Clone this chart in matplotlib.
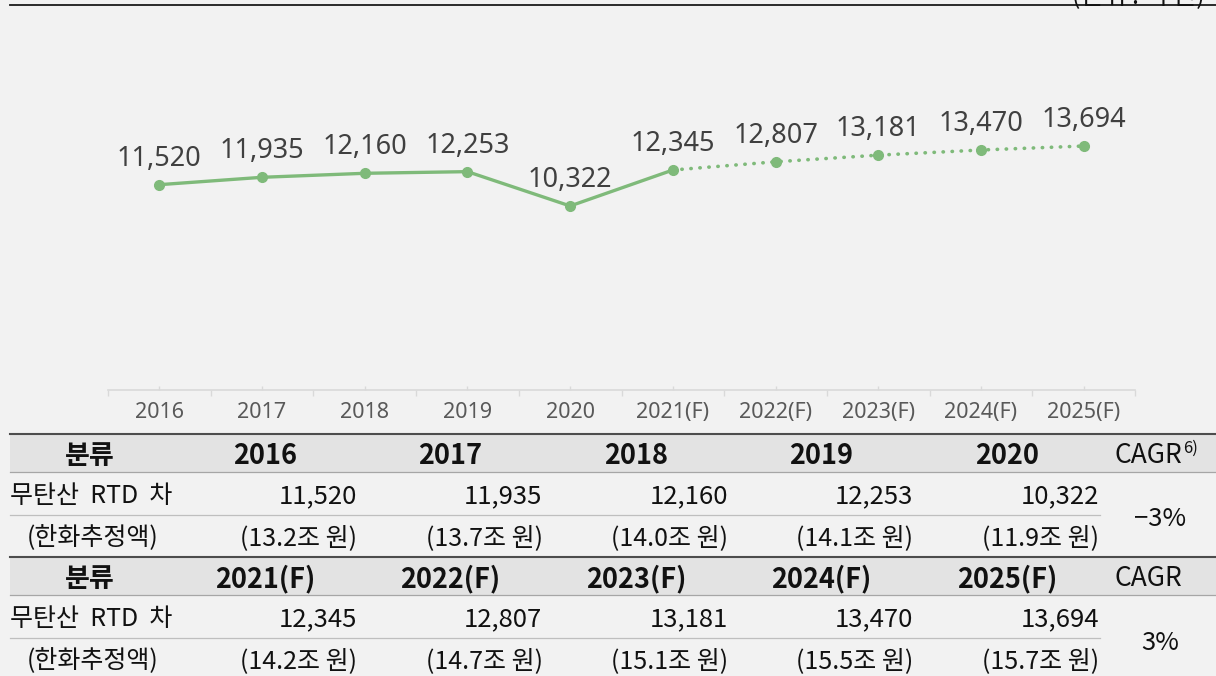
import matplotlib
matplotlib.use("Agg")
import matplotlib.pyplot as plt
from matplotlib.lines import Line2D
from matplotlib.patches import Rectangle
from matplotlib.ticker import FixedLocator

# ---------------- data ----------------
years = ['2016', '2017', '2018', '2019', '2020',
         '2021(F)', '2022(F)', '2023(F)', '2024(F)', '2025(F)']
values = [11520, 11935, 12160, 12253, 10322,
          12345, 12807, 13181, 13470, 13694]
n_actual = 6  # solid line through 2021(F), dotted afterwards

hist_years = ['2016', '2017', '2018', '2019', '2020']
hist_vals = ['11,520', '11,935', '12,160', '12,253', '10,322']
hist_krw = ['13.2', '13.7', '14.0', '14.1', '11.9']
hist_cagr = '\u22123%'

fc_years = ['2021(F)', '2022(F)', '2023(F)', '2024(F)', '2025(F)']
fc_vals = ['12,345', '12,807', '13,181', '13,470', '13,694']
fc_krw = ['14.2', '14.7', '15.1', '15.5', '15.7']
fc_cagr = '3%'

row_label = '무탄산  RTD  차'
row_sub = '(한화추정액)'
head_label = '분류'
unit_text = '(단위 : 억 원)'

# ---------------- style ----------------
W, H = 1216, 676
BG = '#F2F2F2'
GREEN = '#7FBA7A'
KFONT = ['Noto Sans CJK KR', 'DejaVu Sans']
LFONT = ['Noto Sans', 'DejaVu Sans']

fig = plt.figure(figsize=(W / 100, H / 100), dpi=100, facecolor=BG)

def fx(x):
    return x / W

def fy(y):
    return 1 - y / H

# ---------------- chart ----------------
ax_left, ax_right = 108, 1135
ax_bot, ax_top = 389.5, 33.9
ax = fig.add_axes([fx(ax_left), fy(ax_bot), (ax_right - ax_left) / W, (ax_bot - ax_top) / H])
ax.set_facecolor(BG)
ax.set_xlim(-0.5, len(years) - 0.5)
ax.set_ylim(0, 20000)

xs = list(range(len(years)))
ax.plot(xs[:n_actual], values[:n_actual], color=GREEN, lw=2.4,
        solid_capstyle='round', zorder=3)
ax.plot(xs[n_actual - 1:], values[n_actual - 1:], color=GREEN, lw=2.6,
        linestyle=(0, (0.1, 2.4)), dash_capstyle='round', zorder=3)
ax.plot(xs, values, 'o', color=GREEN, markersize=7, zorder=4)

for x, v in zip(xs, values):
    ax.annotate(f'{v:,}', (x, v), xytext=(0, 8.5), textcoords='offset points',
                ha='center', va='bottom', fontsize=19.5, color='#404040',
                family=LFONT)

for s in ['top', 'left', 'right']:
    ax.spines[s].set_visible(False)
ax.spines['bottom'].set_color('#D9D9D9')
ax.spines['bottom'].set_linewidth(1.2)
ax.set_yticks([])
ax.set_xticks(xs)
ax.set_xticklabels(years, fontsize=15.5, color='#595959', family=LFONT)
ax.tick_params(axis='x', which='major', direction='in', length=3, color='#D9D9D9',
               width=1, pad=9)
ax.xaxis.set_minor_locator(FixedLocator([i - 0.5 for i in range(len(years) + 1)]))
ax.tick_params(axis='x', which='minor', direction='out', length=4.5, color='#D9D9D9',
               width=1)

# ---------------- top rule & unit ----------------
fig.add_artist(Line2D([fx(10), fx(W)], [fy(4.5), fy(4.5)], transform=fig.transFigure,
                      color='#1a1a1a', lw=1.3))
fig.text(fx(1205), fy(3), unit_text, ha='right', va='baseline', fontsize=18,
         family=KFONT, color='#111111')

# ---------------- table ----------------
def hline(y, x0, x1, color, lw):
    fig.add_artist(Line2D([fx(x0), fx(x1)], [fy(y), fy(y)], transform=fig.transFigure,
                          color=color, lw=lw))

def band(y0, y1):
    fig.add_artist(Rectangle((fx(10), fy(y1)), fx(W) - fx(10), (y1 - y0) / H,
                             transform=fig.transFigure, facecolor='#E3E3E3',
                             edgecolor='none'))

col_centers = [265 + 185.5 * i for i in range(5)]
col_rights = [357 + 185.5 * i for i in range(5)]

def block(top, yrs, vals, krw, cagr, cagr_head, sup):
    hdr_b = top + 37.5
    row1_b = hdr_b + 43
    row2_b = row1_b + 42
    band(top, hdr_b)
    hline(top, 10, W, '#4d4d4d', 1.5)
    hline(hdr_b, 10, W, '#a6a6a6', 0.9)
    hline(row1_b, 10, 1100, '#bfbfbf', 0.9)
    hc = (top + hdr_b) / 2
    fig.text(fx(90), fy(hc), head_label, ha='center', va='center_baseline',
             fontsize=19.5, fontweight='bold', family=KFONT, color='#111111')
    for cx, yr in zip(col_centers, yrs):
        fig.text(fx(cx), fy(hc), yr, ha='center', va='center_baseline',
                 fontsize=19.5, fontweight='bold', family=KFONT, color='#111111')
    fig.text(fx(1148), fy(hc), cagr_head, ha='center', va='center_baseline',
             fontsize=19, family=KFONT, color='#111111')
    if sup:
        fig.text(fx(1183), fy(hc - 6), sup, ha='left', va='center_baseline',
                 fontsize=12, family=KFONT, color='#111111')
    r1 = (hdr_b + row1_b) / 2
    r2 = (row1_b + row2_b) / 2
    fig.text(fx(10), fy(r1), row_label, ha='left', va='center_baseline',
             fontsize=18, family=KFONT, color='#111111')
    fig.text(fx(27), fy(r2), row_sub, ha='left', va='center_baseline',
             fontsize=18, family=KFONT, color='#111111')
    for rx, v, k in zip(col_rights, vals, krw):
        fig.text(fx(rx), fy(r1), v, ha='right', va='center_baseline',
                 fontsize=18.5, family=KFONT, color='#111111')
        fig.text(fx(rx), fy(r2), f'({k}조 원)', ha='right', va='center_baseline',
                 fontsize=18, family=KFONT, color='#111111')
    fig.text(fx(1160), fy(row1_b + 2), cagr, ha='center', va='center_baseline',
             fontsize=18.5, family=KFONT, color='#111111')
    return row2_b

block(434, hist_years, hist_vals, hist_krw, hist_cagr, 'CAGR', '6)')
block(557, fc_years, fc_vals, fc_krw, fc_cagr, 'CAGR', None)

fig.savefig('out.png', dpi=100, facecolor=BG)
